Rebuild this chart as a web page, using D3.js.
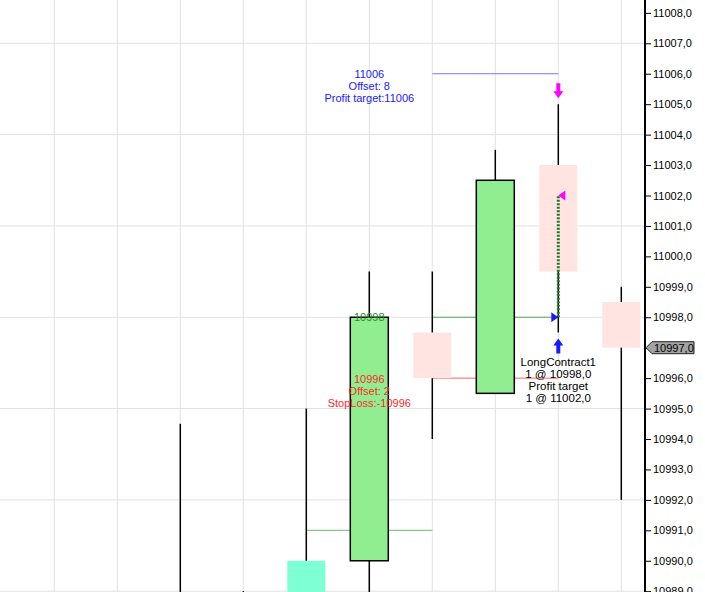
<!DOCTYPE html>
<html><head><meta charset="utf-8">
<script src="https://cdn.jsdelivr.net/npm/d3@7"></script>
<style>body{margin:0;background:#fff}svg{display:block}text{font-family:"Liberation Sans",Arial,sans-serif;font-size:11px}</style>
</head><body><svg id="c" width="705" height="592"></svg>
<script>
// ---- data ----
const barIndex = [2, 3, 4, 5, 6, 7, 8, 9];
const opens  = [10988.5, 10988.5, 10990, 10990, 10997.5, 10995.5, 11003, 10998.5];
const highs  = [10994.5, 10989, 10995, 10999.5, 10999.5, 11003.5, 11005, 10999];
const lows   = [10987, 10987, 10987.5, 10987.5, 10994, 10995.5, 10997.5, 10992];
const closes = [10988, 10988, 10988.5, 10998, 10996, 11002.5, 10999.5, 10997];
const bodyColors = ["#FFE4E1", "#FFE4E1", "#7FFFD4", "#90EE90", "#FFE4E1", "#90EE90", "#FFE4E1", "#FFE4E1"];
const bodyBorder = [false, false, false, true, false, true, false, false];

const levelValues = [11006, 10998, 10996, 10991];
const levelFrom   = [6, 6, 6, 4];
const levelTo     = [8, 8, 8, 6];
const levelColors = ["#7b7be6", "#55aa55", "#ff6060", "#66bb66"];

const profitLines = ["11006", "Offset: 8", "Profit target:11006"];
const stopLines   = ["10996", "Offset: 2", "StopLoss:-10996"];
const entryLabel  = "10998";
const tradeLines  = ["LongContract1", "1 @ 10998,0", "Profit target", "1 @ 11002,0"];
const tradeBar = 8, entryPrice = 10998, exitPrice = 11002;
const lastPrice = 10997;
const yTicks = d3.range(10989, 11009, 1);
const gridTicks = d3.range(10989, 11009, 3);
const xGrid = d3.range(0, 10);

// ---- scales ----
const W = 705, H = 592, axisX = 645;
const x = d3.scaleLinear().domain([0, 9]).range([54.3, 621.3]);
const y = d3.scaleLinear().domain([10989, 11007]).range([591.2, 43.3]);
const bw = 38;
const svg = d3.select("#c");
const fmt = d => d3.format(".1f")(d).replace(".", ",");

// grid
svg.append("g").selectAll("line").data(xGrid).join("line")
  .attr("x1", d => x(d)).attr("x2", d => x(d)).attr("y1", 0).attr("y2", H)
  .attr("stroke", "#e1e1e1").attr("stroke-width", 1);
svg.append("g").selectAll("line").data(gridTicks).join("line")
  .attr("x1", 0).attr("x2", axisX).attr("y1", d => y(d)).attr("y2", d => y(d))
  .attr("stroke", "#e1e1e1").attr("stroke-width", 1);

// level lines
svg.append("g").selectAll("line").data(levelValues).join("line")
  .attr("x1", (d, i) => x(levelFrom[i])).attr("x2", (d, i) => x(levelTo[i]))
  .attr("y1", d => y(d)).attr("y2", d => y(d))
  .attr("stroke", (d, i) => levelColors[i]).attr("stroke-width", 1);

// candles
const cg = svg.append("g");
barIndex.forEach((b, i) => {
  cg.append("line").attr("x1", x(b)).attr("x2", x(b))
    .attr("y1", y(highs[i])).attr("y2", y(lows[i]))
    .attr("stroke", "#000").attr("stroke-width", 1.5);
  const top = Math.max(opens[i], closes[i]), bot = Math.min(opens[i], closes[i]);
  cg.append("rect").attr("x", x(b) - bw / 2).attr("width", bw)
    .attr("y", y(top)).attr("height", y(bot) - y(top))
    .attr("fill", bodyColors[i])
    .attr("stroke", bodyBorder[i] ? "#000" : "none").attr("stroke-width", 1.5);
});

// trade dotted line
const tx = x(tradeBar);
svg.append("line").attr("x1", tx).attr("x2", tx)
  .attr("y1", y(entryPrice)).attr("y2", y(exitPrice))
  .attr("stroke", "#1e7b1e").attr("stroke-width", 3).attr("stroke-dasharray", "2,1.5");
const ye = y(entryPrice);
svg.append("path").attr("d", `M${tx - 7},${ye - 5}L${tx},${ye}L${tx - 7},${ye + 5}Z`).attr("fill", "#1a1aff");
const yx = y(exitPrice);
svg.append("path").attr("d", `M${tx + 7},${yx - 5}L${tx},${yx}L${tx + 7},${yx + 5}Z`).attr("fill", "#ff00ff");

// arrows
const ti = barIndex.indexOf(tradeBar);
const aLow = y(lows[ti]) + 6;
svg.append("path").attr("d",
  `M${tx},${aLow}L${tx + 5},${aLow + 7}L${tx + 2},${aLow + 7}L${tx + 2},${aLow + 15}L${tx - 2},${aLow + 15}L${tx - 2},${aLow + 7}L${tx - 5},${aLow + 7}Z`)
  .attr("fill", "#1a1aff");
const aHigh = y(highs[ti]) - 6;
svg.append("path").attr("d",
  `M${tx},${aHigh}L${tx + 5},${aHigh - 7}L${tx + 2},${aHigh - 7}L${tx + 2},${aHigh - 15}L${tx - 2},${aHigh - 15}L${tx - 2},${aHigh - 7}L${tx - 5},${aHigh - 7}Z`)
  .attr("fill", "#ff00ff");

// annotation texts
function block(lines, cx, cy, color, size) {
  svg.append("g").selectAll("text").data(lines).join("text")
    .attr("x", cx).attr("y", (d, i) => cy + i * 12).attr("dy", "0.35em")
    .attr("text-anchor", "middle").attr("fill", color)
    .style("font-size", (size || 11) + "px").text(d => d);
}
block(profitLines, x(5), y(levelValues[0]), "#2020ff");
block(stopLines, x(5), y(levelValues[2]) + 1, "#ff2828");
block([entryLabel], x(5), y(levelValues[1]), "#2a8a2a");
block(tradeLines, tx, aLow + 24, "#000", 11.5);

// axis (the tick under the last-price tag is hidden by the tag)
const axis = d3.axisRight(y).tickValues(yTicks).tickSize(6).tickPadding(2)
  .tickFormat(d => d === lastPrice ? "" : fmt(d));
const ag = svg.append("g").attr("transform", `translate(${axisX},0)`).call(axis);
ag.select(".domain").remove();
ag.selectAll("text").attr("font-size", 11).attr("font-family", '"Liberation Sans",Arial,sans-serif').attr("fill", "#000");
ag.selectAll("line").attr("stroke", "#000");
svg.append("line").attr("x1", axisX).attr("x2", axisX).attr("y1", 0).attr("y2", H)
  .attr("stroke", "#000").attr("stroke-width", 2);

// last price tag
const yl = y(lastPrice);
svg.append("path").attr("d",
  `M${axisX + 1},${yl}L${axisX + 7},${yl - 6}L${axisX + 49},${yl - 6}L${axisX + 49},${yl + 6}L${axisX + 7},${yl + 6}Z`)
  .attr("fill", "#a3a3a3").attr("stroke", "#222").attr("stroke-width", 1);
svg.append("text").attr("x", axisX + 9).attr("y", yl).attr("dy", "0.35em")
  .attr("fill", "#000").text(fmt(lastPrice));
</script></body></html>
